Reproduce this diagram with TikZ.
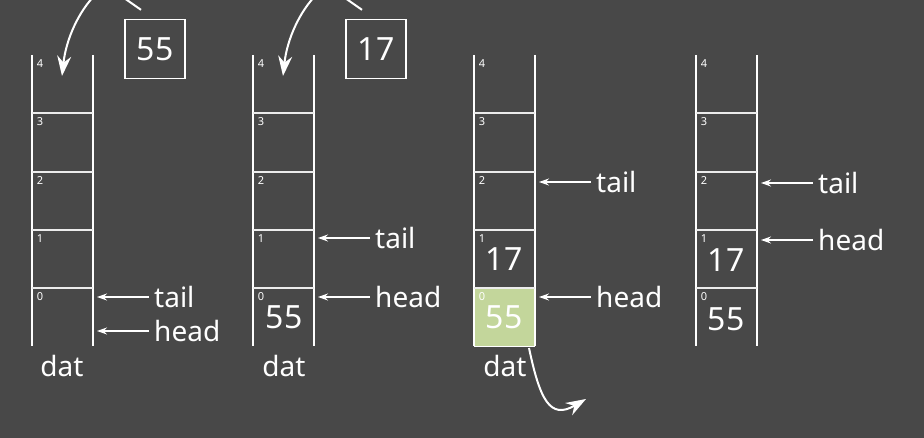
\documentclass[tikz,border=0pt]{standalone}
\usepackage{fontspec}
\setmainfont{Noto Sans}
\usetikzlibrary{arrows.meta}
\definecolor{bg}{HTML}{484848}
\definecolor{cellgreen}{HTML}{C3D69B}
\begin{document}
\begin{tikzpicture}[x=1pt,y=-1pt,
  wall/.style={draw=white,line width=1.3pt},
  idx/.style={text=white,font=\fontsize{11}{13}\selectfont,inner sep=0pt},
  val/.style={text=white,font=\fontsize{32}{36}\selectfont,inner sep=0pt},
  lbl/.style={text=white,font=\fontsize{28}{32}\selectfont,inner sep=0pt,anchor=west},
  ptr/.style={draw=white,line width=1.3pt,-{Stealth[length=10pt,width=7pt]}},
  curvearrow/.style={draw=white,line width=2pt,-{Stealth[length=20pt,width=14pt]}},
  vbox/.style={draw=white,line width=1.3pt,minimum width=60pt,minimum height=59pt,text=white,font=\fontsize{32}{36}\selectfont}
]
\useasboundingbox[fill=bg] (0,0) rectangle (924,438);
\clip (0,0) rectangle (924,438);

\fill[cellgreen] (474,288) rectangle (535,346);
\foreach \x in {32,253,474,696}{
  \draw[wall] (\x,55) -- (\x,346);
  \draw[wall] (\x+61,55) -- (\x+61,346);
  \foreach \y in {113,172,230,288}{
    \draw[draw=white!85!gray,line width=1.1pt] (\x,\y) -- (\x+61,\y);
  }
  \node[idx] at (\x+8,64) {4};
  \node[idx] at (\x+8,122) {3};
  \node[idx] at (\x+8,181) {2};
  \node[idx] at (\x+8,239) {1};
  \node[idx] at (\x+8,297) {0};
}
\draw[draw=white,line width=0.8pt] (474,346) -- (535,346);

% values
\node[val] (v2a) at (284,317) {55};
\node[val] (v3b) at (504,259) {17};
\node[val] (v3a) at (504,317) {55};
\node[val] (v4b) at (726,260) {17};
\node[val] (v4a) at (726,319) {55};

% dat
\node[lbl,anchor=center] (d1) at (62,366) {dat};
\node[lbl,anchor=center] (d2) at (284,366) {dat};
\node[lbl,anchor=center] (d3) at (505,366) {dat};

% boxes
\node[vbox] (b1) at (155,49) {55};
\node[vbox] (b2) at (376,49) {17};

% pointers
\node[lbl] (t1) at (154,297) {tail};
\node[lbl] (h1) at (154,331) {head};
\coordinate (t1p) at (97,297); \coordinate (h1p) at (97,331);
\draw[ptr] (t1.west) ++(-5,0) -- (t1p);
\draw[ptr] (h1.west) ++(-5,0) -- (h1p);

\node[lbl] (t2) at (375,238) {tail};
\node[lbl] (h2) at (375,297) {head};
\coordinate (t2p) at (318,238); \coordinate (h2p) at (318,297);
\draw[ptr] (t2.west) ++(-5,0) -- (t2p);
\draw[ptr] (h2.west) ++(-5,0) -- (h2p);

\node[lbl] (t3) at (596,182) {tail};
\node[lbl] (h3) at (596,297) {head};
\coordinate (t3p) at (539,182); \coordinate (h3p) at (539,297);
\draw[ptr] (t3.west) ++(-5,0) -- (t3p);
\draw[ptr] (h3.west) ++(-5,0) -- (h3p);

\node[lbl] (t4) at (818,183) {tail};
\node[lbl] (h4) at (818,240) {head};
\coordinate (t4p) at (761,183); \coordinate (h4p) at (761,240);
\draw[ptr] (t4.west) ++(-5,0) -- (t4p);
\draw[ptr] (h4.west) ++(-5,0) -- (h4p);

% curved arrows
\coordinate (c1s) at (96,-6);
\coordinate (c1e) at (62,76);
\draw[curvearrow] (c1s) .. controls (78,12) and (66,40) .. (c1e);
\draw[draw=white,line width=2pt] (b1.north) ++(-14,-9) -- ++(-20,-14);
\coordinate (c2s) at (317,-6);
\coordinate (c2e) at (283,76);
\draw[curvearrow] (c2s) .. controls (299,12) and (287,40) .. (c2e);
\draw[draw=white,line width=2pt] (b2.north) ++(-14,-9) -- ++(-20,-14);

\coordinate (c3s) at (529,348);
\coordinate (c3e) at (586,399);
\draw[curvearrow] (c3s) .. controls (540,400) and (550,420) .. (c3e);
\end{tikzpicture}
\end{document}
